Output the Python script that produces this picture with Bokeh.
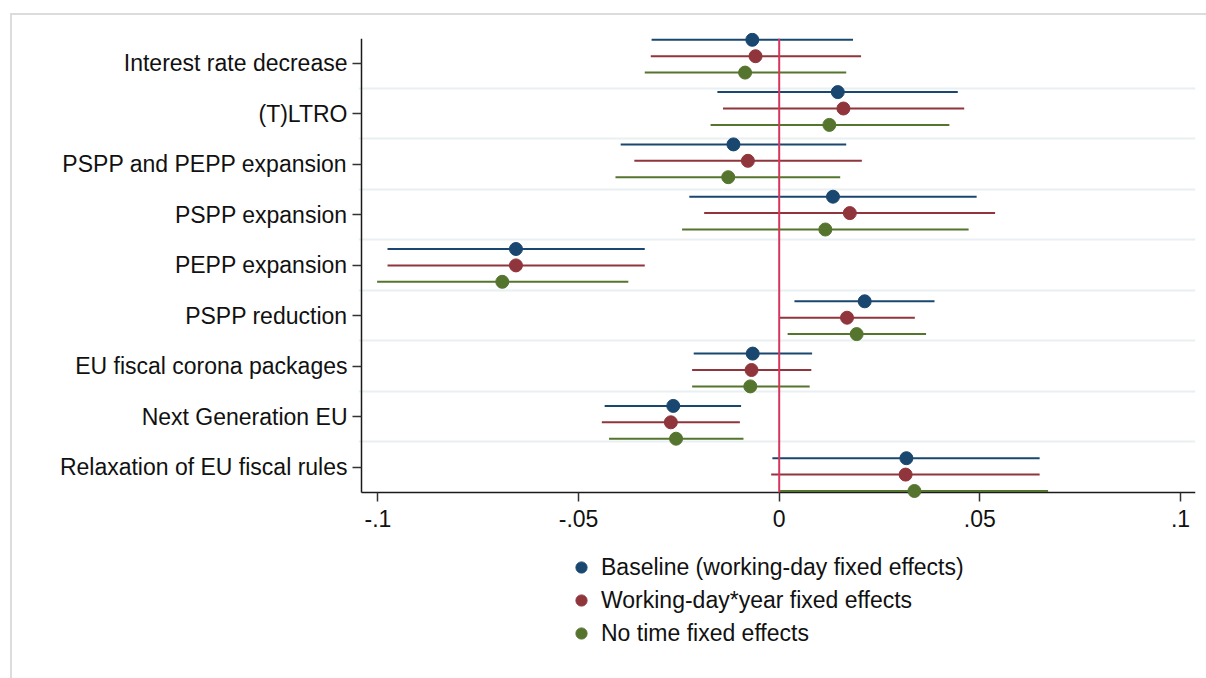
from bokeh.plotting import figure
from bokeh.models import Range1d, FixedTicker, Legend, LegendItem, InlineStyleSheet
from bokeh.embed import file_html
from bokeh.resources import INLINE

# ---------------- data ----------------
categories = [
    "Interest rate decrease",
    "(T)LTRO",
    "PSPP and PEPP expansion",
    "PSPP expansion",
    "PEPP expansion",
    "PSPP reduction",
    "EU fiscal corona packages",
    "Next Generation EU",
    "Relaxation of EU fiscal rules",
]

series_names = [
    "Baseline (working-day fixed effects)",
    "Working-day*year fixed effects",
    "No time fixed effects",
]

baseline_coef = [-0.0067, 0.0146, -0.0114, 0.0134, -0.0656, 0.0213, -0.0066, -0.0264, 0.0317]
baseline_lo = [-0.0318, -0.0154, -0.0395, -0.0224, -0.0976, 0.0038, -0.0213, -0.0435, -0.0017]
baseline_hi = [0.0184, 0.0445, 0.0167, 0.0492, -0.0335, 0.0387, 0.0082, -0.0095, 0.0649]

wdyear_coef = [-0.0059, 0.0160, -0.0078, 0.0176, -0.0656, 0.0169, -0.0069, -0.0270, 0.0315]
wdyear_lo = [-0.0320, -0.0140, -0.0361, -0.0187, -0.0976, 0.0002, -0.0217, -0.0442, -0.0020]
wdyear_hi = [0.0204, 0.0461, 0.0206, 0.0538, -0.0335, 0.0338, 0.0080, -0.0098, 0.0649]

notime_coef = [-0.0085, 0.0125, -0.0127, 0.0115, -0.0690, 0.0193, -0.0072, -0.0257, 0.0337]
notime_lo = [-0.0335, -0.0171, -0.0408, -0.0242, -0.1002, 0.0021, -0.0217, -0.0424, 0.0000]
notime_hi = [0.0167, 0.0424, 0.0152, 0.0472, -0.0376, 0.0366, 0.0076, -0.0089, 0.0670]

x_ticks = [-0.1, -0.05, 0, 0.05, 0.1]
x_tick_labels = ["-.1", "-.05", "0", ".05", ".1"]

# ---------------- styling / layout ----------------
colors = ["#1a476f", "#90353b", "#55752f"]
zero_color = "#d6365e"
grid_color = "#e9eff2"
axis_color = "#1a1a1a"
FONT = "Liberation Sans"

W, H = 1206, 678
PX_PER_UNIT = 4013.0          # px per x unit
ZERO_PX = 778.7               # canvas x of 0
FRAME_L, FRAME_R = 358, 1195  # canvas px
FRAME_T, FRAME_B = 32, 670
ROW_PX = 50.5                 # px per category row
TICK0_PX = 62.7               # canvas y of first category tick

x_start = (FRAME_L - ZERO_PX) / PX_PER_UNIT
x_end = (FRAME_R - ZERO_PX) / PX_PER_UNIT
y_top = (FRAME_T - TICK0_PX) / ROW_PX
y_bottom = (FRAME_B - TICK0_PX) / ROW_PX

axis_x = (361 - ZERO_PX) / PX_PER_UNIT
axis_top = (38.3 - TICK0_PX) / ROW_PX
axis_bottom = (492 - TICK0_PX) / ROW_PX

dot_step = 52.3 / ROW_PX
dot_first = (39.3 - TICK0_PX) / ROW_PX
offsets = [0.0, 16.4 / ROW_PX, 32.8 / ROW_PX]

p = figure(
    width=W, height=H,
    x_range=Range1d(x_start, x_end),
    y_range=Range1d(y_bottom, y_top),
    output_backend="svg", toolbar_location=None,
    min_border_left=FRAME_L, min_border_right=W - FRAME_R,
    min_border_top=FRAME_T, min_border_bottom=H - FRAME_B,
    background_fill_color="white", border_fill_color="white",
)
p.outline_line_color = None
p.xgrid.visible = False
p.ygrid.ticker = FixedTicker(ticks=[i + 0.5 for i in range(len(categories) - 1)])
p.ygrid.grid_line_color = grid_color
p.ygrid.grid_line_width = 2

# axes
p.yaxis.ticker = FixedTicker(ticks=list(range(len(categories))))
p.yaxis.major_label_overrides = {i: c for i, c in enumerate(categories)}
p.xaxis.ticker = FixedTicker(ticks=x_ticks)
p.xaxis.major_label_overrides = {t: l for t, l in zip(x_ticks, x_tick_labels)}
p.xaxis.fixed_location = axis_bottom
for ax in (p.xaxis, p.yaxis):
    ax.axis_line_color = None
    ax.minor_tick_line_color = None
    ax.minor_tick_out = 0
    ax.minor_tick_in = 0
    ax.major_tick_line_color = "#333333"
    ax.major_tick_line_width = 1.5
    ax.major_label_text_font = FONT
    ax.major_label_text_font_size = "23px"
    ax.major_label_text_color = "#111111"
p.yaxis.major_tick_out = 6
p.yaxis.major_tick_in = 3
p.yaxis.major_label_standoff = 5
p.xaxis.major_tick_out = 9
p.xaxis.major_tick_in = 0
p.xaxis.major_label_standoff = 8

# axis lines drawn as glyphs
p.segment(x0=[axis_x], y0=[axis_top], x1=[axis_x], y1=[axis_bottom],
          line_color=axis_color, line_width=1.5)
p.segment(x0=[axis_x], y0=[axis_bottom], x1=[x_end], y1=[axis_bottom],
          line_color=axis_color, line_width=1.5)

coefs = [baseline_coef, wdyear_coef, notime_coef]
los = [baseline_lo, wdyear_lo, notime_lo]
his = [baseline_hi, wdyear_hi, notime_hi]

ys_all = []
for k in range(3):
    ys = [dot_first + i * dot_step + offsets[k] for i in range(len(categories))]
    ys_all.append(ys)
    p.segment(x0=los[k], y0=ys, x1=his[k], y1=ys, line_color=colors[k], line_width=2)

# zero reference line
p.segment(x0=[0], y0=[axis_top], x1=[0], y1=[axis_bottom], line_color=zero_color, line_width=2)

dot_renderers = []
for k in range(3):
    r = p.scatter(x=coefs[k], y=ys_all[k], size=13, fill_color=colors[k], line_color=colors[k])
    dot_renderers.append(r)

legend = Legend(
    items=[LegendItem(label=series_names[k], renderers=[dot_renderers[k]]) for k in range(3)],
    location=(567 - FRAME_L, FRAME_B - 647),
    orientation="vertical",
    glyph_width=28, glyph_height=28, label_height=28,
    spacing=5, padding=0, margin=0,
    label_standoff=6,
    label_text_font=FONT, label_text_font_size="23px", label_text_color="#111111",
    label_text_baseline="middle",
    border_line_color=None, background_fill_alpha=0,
)
p.add_layout(legend)

p.stylesheets = [InlineStyleSheet(css=(
    ":host { position: relative; }"
    ":host::after { content: ''; position: absolute; left: 10px; top: 13px; right: 0px; bottom: 0px;"
    " border-left: 2px solid #dcdcdc; border-top: 2px solid #dcdcdc; pointer-events: none; }"
))]

open("out.html", "w").write(file_html(p, INLINE))
